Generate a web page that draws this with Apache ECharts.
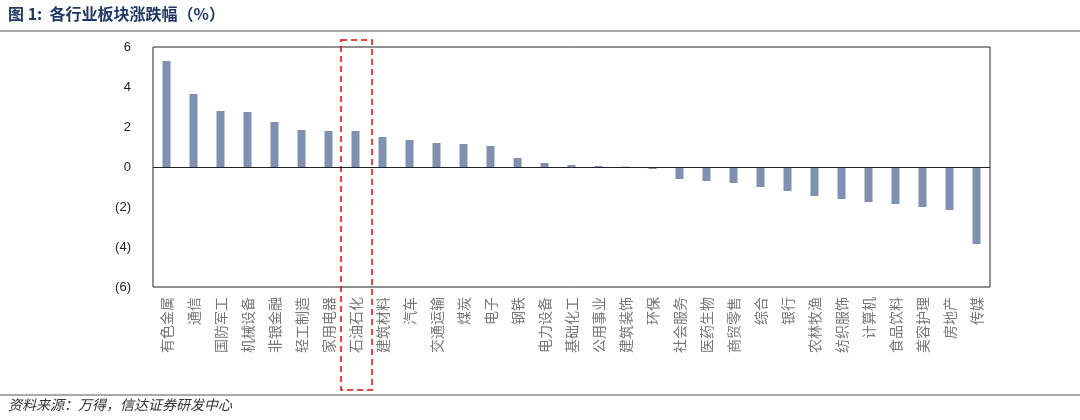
<!DOCTYPE html><html><head><meta charset="utf-8"><script src="https://cdn.jsdelivr.net/npm/echarts@6/dist/echarts.min.js"></script></head><body style="margin:0;background:#fff"><div id="c" style="width:1080px;height:420px"></div><script>
const categories=['有色金属','通信','国防军工','机械设备','非银金融','轻工制造','家用电器','石油石化','建筑材料','汽车','交通运输','煤炭','电子','钢铁','电力设备','基础化工','公用事业','建筑装饰','环保','社会服务','医药生物','商贸零售','综合','银行','农林牧渔','纺织服饰','计算机','食品饮料','美容护理','房地产','传媒'];
const values=[5.3,3.65,2.8,2.75,2.25,1.85,1.8,1.8,1.5,1.35,1.2,1.15,1.05,0.45,0.2,0.1,0.05,0.02,-0.1,-0.6,-0.7,-0.8,-1.0,-1.2,-1.45,-1.6,-1.75,-1.85,-2.0,-2.15,-3.85];
const yTicks=[-6,-4,-2,0,2,4,6];
const ch=echarts.init(document.getElementById('c'));
ch.setOption({animation:false,
grid:{left:153,right:90,top:47,bottom:133,show:true,borderColor:'#222',borderWidth:1},
xAxis:{type:'category',data:categories,position:'bottom',axisLine:{onZero:false,show:false},axisTick:{show:false},
 axisLabel:{rotate:90,interval:0,color:'#777',fontSize:14,fontFamily:'Noto Sans CJK SC',margin:10}},
yAxis:{type:'value',min:-6,max:6,interval:2,axisLine:{show:false},axisTick:{show:false},splitLine:{show:false},
 axisLabel:{color:'#222',fontSize:13,margin:22,formatter:v=>v<0?'('+(-v)+')':String(v)}},
series:[{type:'bar',data:values,barWidth:8,itemStyle:{color:'#7f90b0'},
 markLine:{silent:true,symbol:'none',label:{show:false},lineStyle:{color:'#222',type:'solid',width:1},data:[{yAxis:0}]}}],
graphic:[
 {type:'text',left:8,top:6,style:{text:'图 1:  各行业板块涨跌幅（%）',fill:'#1f3864',font:'bold 16px "Noto Sans CJK SC"'}},
 {type:'line',shape:{x1:0,y1:31,x2:1080,y2:31},style:{stroke:'#555',lineWidth:1}},
 {type:'line',shape:{x1:0,y1:395,x2:1080,y2:395},style:{stroke:'#555',lineWidth:1}},
 {type:'text',left:8,top:398,style:{text:'资料来源：万得，信达证券研发中心',fill:'#333',font:'italic 14px "Noto Sans CJK SC"'}},
 {type:'rect',shape:{x:341,y:40,width:31,height:350},style:{fill:'none',stroke:'#e00',lineWidth:1.5,lineDash:[6,4]}}
]});
</script></body></html>
